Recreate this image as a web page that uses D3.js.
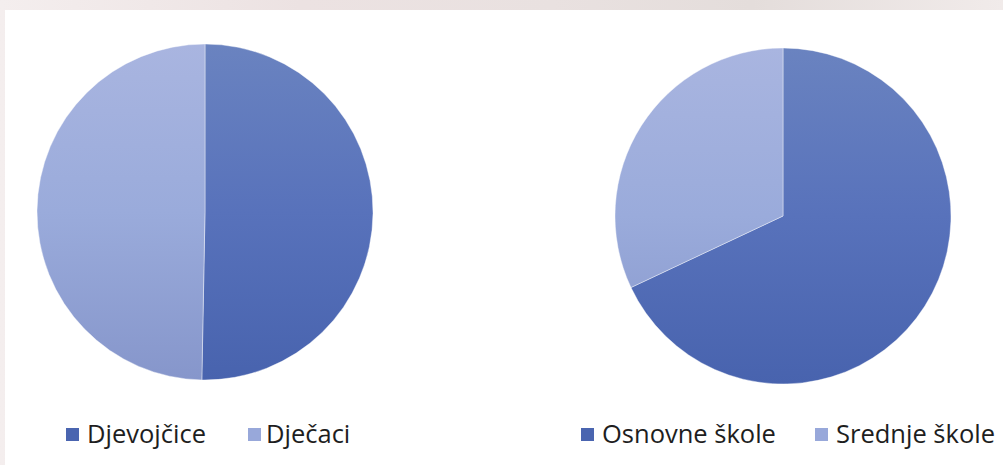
<!DOCTYPE html>
<html><head><meta charset="utf-8">
<script src="https://cdn.jsdelivr.net/npm/d3@7"></script>
<style>
html,body{margin:0;padding:0;background:#efe8e8;overflow:hidden}
svg{display:block}
</style></head>
<body>
<svg id="c" width="1003" height="465"></svg>
<script>
const pie1Labels = ["Djevojčice", "Dječaci"];
const pie1Values = [50.3, 49.7];
const pie2Labels = ["Osnovne škole", "Srednje škole"];
const pie2Values = [68, 32];

const svg = d3.select("#c");
const bg = svg.append("defs");
const bgGrad = bg.append("linearGradient").attr("id","bgg").attr("x1",0).attr("x2",1).attr("y1",0).attr("y2",0);
[["0%","#f4eeee"],["30%","#ece2e2"],["55%","#e9e1e0"],["75%","#e4dddb"],["100%","#f1ebea"]].forEach(s=>bgGrad.append("stop").attr("offset",s[0]).attr("stop-color",s[1]));
svg.append("rect").attr("width",1003).attr("height",465).attr("fill","url(#bgg)");
svg.append("rect").attr("x",5).attr("y",10).attr("width",998).attr("height",455).attr("fill","#ffffff");

function grad(id, top, mid, bottom, r){
  const g = bg.append("linearGradient").attr("id",id).attr("gradientUnits","userSpaceOnUse")
    .attr("x1",0).attr("x2",0).attr("y1",-r).attr("y2",r);
  g.append("stop").attr("offset","0%").attr("stop-color",top);
  g.append("stop").attr("offset","50%").attr("stop-color",mid);
  g.append("stop").attr("offset","100%").attr("stop-color",bottom);
}

function drawPie(labels, values, cx, cy, r, idp){
  grad(idp+"d","#6a83c0","#5872bb","#4863ae",r);
  grad(idp+"l","#a9b5e0","#9aabdb","#8696cb",r);
  const color = d3.scaleOrdinal().domain(labels).range(["url(#"+idp+"d)","url(#"+idp+"l)"]);
  const pie = d3.pie().sort(null).value(d=>d.v);
  const arc = d3.arc().innerRadius(0).outerRadius(r);
  const data = labels.map((l,i)=>({l, v: values[i]}));
  const g = svg.append("g").attr("transform",`translate(${cx},${cy})`);
  g.selectAll("path").data(pie(data)).join("path")
    .attr("d",arc).attr("fill",d=>color(d.data.l))
    .attr("stroke","rgba(255,255,255,0.4)").attr("stroke-width",1);
  return color;
}

drawPie(pie1Labels, pie1Values, 205, 212, 168, "p1");
drawPie(pie2Labels, pie2Values, 783, 216, 168, "p2");

const legendFill = ["#4a65b0","#98a8da"];
function legend(labels, xs, textXs){
  labels.forEach((l,i)=>{
    svg.append("rect").attr("x",xs[i]).attr("y",428).attr("width",13).attr("height",13).attr("fill",legendFill[i]);
    svg.append("text").attr("x",textXs[i]).attr("y",443).text(l)
      .attr("font-family","'Open Sans', sans-serif").attr("font-size",25.5).attr("fill","#1e1e1e");
  });
}
legend(pie1Labels, [66,248], [87,266]);
legend(pie2Labels, [581,815], [602,836]);
</script>
</body></html>
